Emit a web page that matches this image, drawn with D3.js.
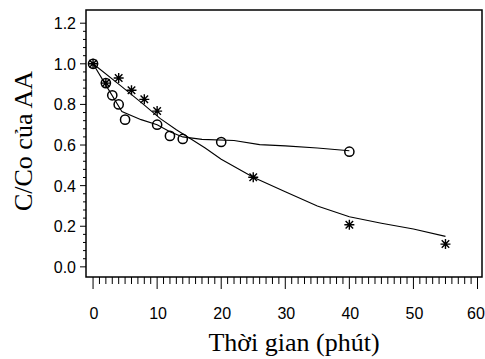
<!DOCTYPE html>
<html><head><meta charset="utf-8">
<script src="https://cdn.jsdelivr.net/npm/d3@7"></script>
<style>body{margin:0;background:#fff}</style>
</head><body>
<svg id="c" width="485" height="359"></svg>
<script>
// Observed data: circles (o)
const circleX = [0, 2, 3, 4, 5, 10, 12, 14, 20, 40];
const circleY = [1.0, 0.905, 0.845, 0.80, 0.725, 0.70, 0.645, 0.63, 0.615, 0.567];
// Fitted curve for circles
const circleFitX = [0, 2, 4.5, 7.5, 10, 12, 14, 17, 22, 26, 30, 35, 40];
const circleFitY = [1.0, 0.895, 0.765, 0.725, 0.70, 0.665, 0.64, 0.628, 0.622, 0.602, 0.596, 0.585, 0.572];
// Observed data: stars (*)
const starX = [0, 2, 4, 6, 8, 10, 25, 40, 55];
const starY = [1.0, 0.905, 0.93, 0.87, 0.825, 0.767, 0.441, 0.207, 0.112];
// Fitted curve for stars
const starFitX = [0, 4, 7.5, 10.5, 13, 17.5, 20, 25, 30, 35, 40, 45, 50, 55];
const starFitY = [1.0, 0.90, 0.81, 0.73, 0.675, 0.585, 0.53, 0.441, 0.37, 0.30, 0.247, 0.215, 0.186, 0.15];
// Axis ticks
const xTicks = [0, 10, 20, 30, 40, 50, 60];
const yTicks = [0.0, 0.2, 0.4, 0.6, 0.8, 1.0, 1.2];

const svg = d3.select("#c");
const L = 86, R = 482, T = 10, B = 277;
const x = d3.scaleLinear().domain([-1.1, 60.7]).range([L, R]);
const y = d3.scaleLinear().domain([-0.05, 1.265]).range([B, T]);

// frame
svg.append("rect").attr("x", L).attr("y", T).attr("width", R - L).attr("height", B - T)
  .attr("fill", "none").attr("stroke", "#000").attr("stroke-width", 1.5);

const tickFont = "'Liberation Sans Narrow', 'Liberation Sans', Arial, sans-serif";

// x axis ticks (minor every 1, major every 10)
const xMinor = d3.range(0, 61, 1);
svg.append("g").selectAll("line").data(xMinor).join("line")
  .attr("x1", d => x(d)).attr("x2", d => x(d))
  .attr("y1", B).attr("y2", d => d % 10 === 0 ? B + 12 : B + 7)
  .attr("stroke", "#000").attr("stroke-width", 1);
svg.append("g").selectAll("text").data(xTicks).join("text")
  .attr("x", d => Math.min(x(d) + 1, 476)).attr("y", 319)
  .attr("text-anchor", "middle").attr("font-family", tickFont).attr("font-size", 16)
  .text(d => d);

// y axis ticks (minor every 0.04)
const yMinor = d3.range(0, 31).map(i => i * 0.04);
svg.append("g").selectAll("line").data(yMinor).join("line")
  .attr("y1", d => y(d)).attr("y2", d => y(d))
  .attr("x1", L).attr("x2", (d, i) => i % 5 === 0 ? L - 6 : L - 3)
  .attr("stroke", "#000").attr("stroke-width", 1);
svg.append("g").selectAll("text").data(yTicks).join("text")
  .attr("x", 76).attr("y", d => y(d) + 6)
  .attr("text-anchor", "end").attr("font-family", tickFont).attr("font-size", 16)
  .text(d => d.toFixed(1));

// axis titles
svg.append("text").attr("x", 294).attr("y", 351).attr("text-anchor", "middle")
  .attr("font-family", "'Liberation Serif', 'Times New Roman', serif").attr("font-size", 26)
  .text("Thời gian (phút)");
svg.append("text").attr("transform", "translate(32,141) rotate(-90)").attr("text-anchor", "middle")
  .attr("font-family", "'Liberation Serif', 'Times New Roman', serif").attr("font-size", 26)
  .text("C/Co của AA");

// fitted lines
const line = d3.line().x(d => x(d[0])).y(d => y(d[1]));
svg.append("path").datum(d3.zip(circleFitX, circleFitY)).attr("d", line)
  .attr("fill", "none").attr("stroke", "#000").attr("stroke-width", 1.1);
svg.append("path").datum(d3.zip(starFitX, starFitY)).attr("d", line)
  .attr("fill", "none").attr("stroke", "#000").attr("stroke-width", 1.1);

// circle markers
svg.append("g").selectAll("circle").data(d3.zip(circleX, circleY)).join("circle")
  .attr("cx", d => x(d[0])).attr("cy", d => y(d[1])).attr("r", 4.6)
  .attr("fill", "none").attr("stroke", "#000").attr("stroke-width", 1.5);

// star markers
const s = 5;
const starPath = `M0,${-s}L0,${s}M${-s},0L${s},0M${-s*0.75},${-s*0.75}L${s*0.75},${s*0.75}M${-s*0.75},${s*0.75}L${s*0.75},${-s*0.75}`;
svg.append("g").selectAll("path").data(d3.zip(starX, starY)).join("path")
  .attr("transform", d => `translate(${x(d[0])},${y(d[1])})`)
  .attr("d", starPath).attr("fill", "none").attr("stroke", "#000").attr("stroke-width", 1.4);
</script>
</body></html>
